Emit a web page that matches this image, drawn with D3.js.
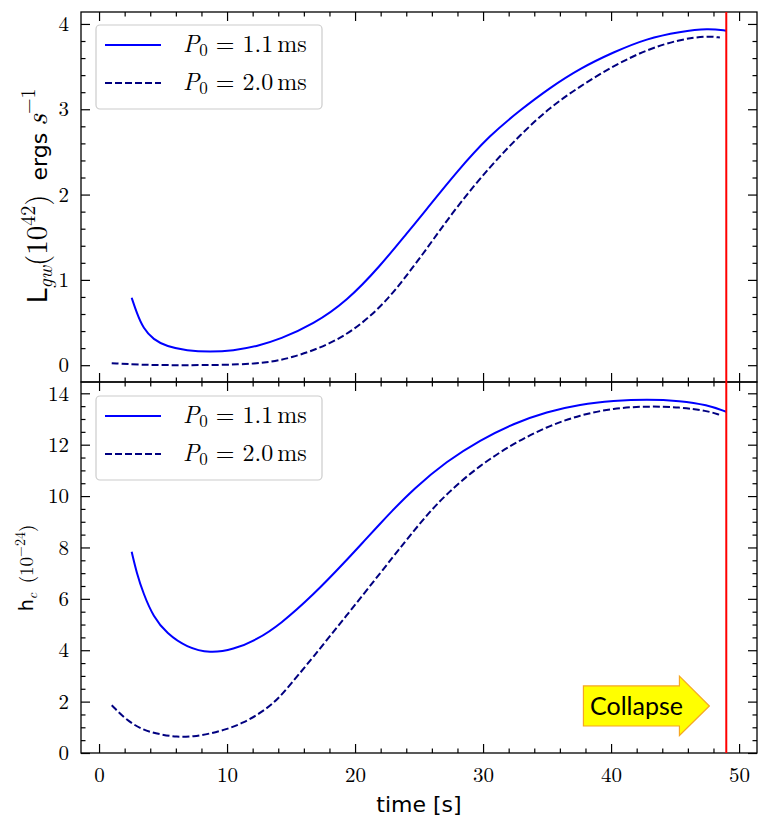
<!DOCTYPE html>
<html><head><meta charset="utf-8">
<script src="https://cdn.jsdelivr.net/npm/d3@7"></script>
<style>body{margin:0;background:#fff}svg{display:block}</style>
</head><body>
<svg id="c" width="762" height="823"></svg>
<script>
// ---- data ----
const lgwFastT = [2.55,2.95,3.46,4.24,5.29,6.85,8.67,10.49,12.3,14.14,16.74,19.35,21.95,24.17,25.34,27.95,30.55,32.9,35.2,37.58,40.2,42.79,45.4,47.6,49.0];
const lgwFastV = [0.79,0.61,0.43,0.30,0.22,0.17,0.156,0.17,0.22,0.305,0.48,0.75,1.16,1.57,1.78,2.27,2.70,2.99,3.25,3.48,3.67,3.83,3.91,3.95,3.92];
const lgwSlowT = [0.99,3.2,5.5,7.9,11.0,13.1,14.92,18.05,20.65,22.73,24.17,25.34,27.95,30.55,32.9,35.2,37.58,40.2,42.79,45.4,47.5,48.5];
const lgwSlowV = [0.023,0.005,0.0,0.0,0.007,0.03,0.08,0.24,0.49,0.80,1.08,1.31,1.86,2.33,2.70,3.02,3.27,3.51,3.70,3.82,3.86,3.84];
const hcFastT = [2.55,2.95,3.46,4.24,5.29,6.85,8.67,10.49,12.3,14.14,16.74,19.35,20.78,21.95,22.73,24.55,27.16,29.77,32.4,34.97,37.58,40.2,42.79,45.4,47.5,49.0];
const hcFastV = [7.83,6.99,6.21,5.30,4.65,4.11,3.88,4.03,4.40,5.0,6.15,7.51,8.29,8.92,9.34,10.27,11.36,12.18,12.83,13.28,13.57,13.71,13.77,13.71,13.55,13.28];
const hcSlowT = [0.99,2.16,3.46,4.8,6.07,7.4,8.67,10.0,11.27,12.5,13.6,14.4,16.74,19.35,21.95,23.9,25.5,27.16,29.77,32.4,34.97,37.58,40.2,42.79,45.4,47.5,48.5];
const hcSlowV = [1.86,1.27,0.88,0.72,0.62,0.64,0.75,0.93,1.17,1.52,1.93,2.33,3.74,5.36,6.99,8.22,9.2,10.1,11.21,12.05,12.7,13.16,13.42,13.5,13.46,13.32,13.16];
const collapseT = 49.0;
const xTicks = [0,10,20,30,40,50];
const y1Ticks = [0,1,2,3,4];
const y2Ticks = [0,2,4,6,8,10,12,14];
const seriesLabels = ["1.1", "2.0"];
const arrowBody = {t0:37.84, t1:45.34, hLo:1.05, hHi:2.61, headLo:0.68, headHi:2.99, tip:47.68, mid:1.83};

// ---- layout ----
const L=81, R=757, T1=12, B1=382, T2=382, B2=753;
const svg = d3.select("#c");
const x = d3.scaleLinear().domain([-1.41,51.4]).range([L,R]);
const y1 = d3.scaleLinear().domain([-0.197,4.14]).range([B1,T1]);
const y2 = d3.scaleLinear().domain([0,14.44]).range([B2,T2]);
const serif = "'Latin Modern Roman', 'Liberation Serif', serif";
const sans = "'DejaVu Sans', sans-serif";

const defs = svg.append("defs");
defs.append("clipPath").attr("id","cp1").append("rect").attr("x",L).attr("y",T1).attr("width",R-L).attr("height",B1-T1);
defs.append("clipPath").attr("id","cp2").append("rect").attr("x",L).attr("y",T2).attr("width",R-L).attr("height",B2-T2);

function styleAxis(g, labels){
  g.attr("font-family",null).attr("font-size",null);
  g.select(".domain").remove();
  g.selectAll(".tick line").attr("stroke","#000").attr("stroke-width",1.2);
  g.selectAll("text").style("font-family",serif).style("font-size","21px").attr("fill","#000");
  if(!labels) g.selectAll("text").remove();
}
function axes(y, yt, yMinorStep, top, bottom, xLabels){
  const xMinor = d3.range(0, 52, 2).filter(v=>v%10!==0);
  const yMinor = d3.range(0, y.domain()[1], yMinorStep).map(v=>+v.toFixed(3)).filter(v=>!yt.some(t=>Math.abs(t-v)<1e-6));
  let g = svg.append("g").attr("transform",`translate(0,${bottom})`).call(d3.axisBottom(x).tickValues(xTicks).tickSize(-9).tickPadding(14).tickFormat(d3.format("d")));
  styleAxis(g, xLabels);
  g = svg.append("g").attr("transform",`translate(0,${bottom})`).call(d3.axisBottom(x).tickValues(xMinor).tickSize(-4.5).tickFormat(""));
  styleAxis(g,false);
  g = svg.append("g").attr("transform",`translate(0,${top})`).call(d3.axisTop(x).tickValues(xTicks).tickSize(-9));
  styleAxis(g,false);
  g = svg.append("g").attr("transform",`translate(0,${top})`).call(d3.axisTop(x).tickValues(xMinor).tickSize(-4.5));
  styleAxis(g,false);
  g = svg.append("g").attr("transform",`translate(${L},0)`).call(d3.axisLeft(y).tickValues(yt).tickSize(-9).tickPadding(12).tickFormat(d3.format("d")));
  styleAxis(g,true);
  g = svg.append("g").attr("transform",`translate(${L},0)`).call(d3.axisLeft(y).tickValues(yMinor).tickSize(-4.5));
  styleAxis(g,false);
  g = svg.append("g").attr("transform",`translate(${R},0)`).call(d3.axisRight(y).tickValues(yt).tickSize(-9));
  styleAxis(g,false);
  g = svg.append("g").attr("transform",`translate(${R},0)`).call(d3.axisRight(y).tickValues(yMinor).tickSize(-4.5));
  styleAxis(g,false);
}
axes(y1, y1Ticks, 0.2, T1, B1, false);
axes(y2, y2Ticks, 0.5, T2, B2, true);

svg.append("rect").attr("x",L).attr("y",T1).attr("width",R-L).attr("height",B1-T1).attr("fill","none").attr("stroke","#000").attr("stroke-width",1.3);
svg.append("rect").attr("x",L).attr("y",T2).attr("width",R-L).attr("height",B2-T2).attr("fill","none").attr("stroke","#000").attr("stroke-width",1.3);

function drawLine(ts, vs, y, clip, color, dash){
  const pts = ts.map((t,i)=>[t,vs[i]]);
  svg.append("path").datum(pts).attr("clip-path",`url(#${clip})`)
    .attr("d", d3.line().x(d=>x(d[0])).y(d=>y(d[1])).curve(d3.curveBasis))
    .attr("fill","none").attr("stroke",color).attr("stroke-width",2)
    .attr("stroke-dasharray",dash||null);
}
drawLine(lgwFastT, lgwFastV, y1, "cp1", "#0000ff");
drawLine(lgwSlowT, lgwSlowV, y1, "cp1", "#000080", "7,3");
drawLine(hcFastT, hcFastV, y2, "cp2", "#0000ff");
drawLine(hcSlowT, hcSlowV, y2, "cp2", "#000080", "7,3");

svg.append("line").attr("x1",x(collapseT)).attr("x2",x(collapseT)).attr("y1",T1).attr("y2",B2)
  .attr("stroke","#ff0000").attr("stroke-width",2);

function legend(top){
  svg.append("rect").attr("x",96).attr("y",top).attr("width",226).attr("height",84).attr("rx",4)
    .attr("fill","#fff").attr("fill-opacity",0.8).attr("stroke","#cccccc").attr("stroke-width",1.2);
  seriesLabels.forEach((lab,i)=>{
    const ly = top + 20 + i*38;
    svg.append("line").attr("x1",105).attr("x2",161).attr("y1",ly).attr("y2",ly)
      .attr("stroke", i===0?"#0000ff":"#000080").attr("stroke-width",2).attr("stroke-dasharray", i===0?null:"7,3");
    const t = svg.append("text").attr("x",183).attr("y",ly+7).style("font-family",serif).style("font-size","24px").attr("fill","#000");
    t.append("tspan").attr("font-style","italic").text("P");
    t.append("tspan").style("font-size","17px").attr("dy",4).text("0");
    t.append("tspan").attr("dy",-4).attr("dx",8).text("=");
    t.append("tspan").attr("dx",8).text(lab);
    t.append("tspan").attr("dx",4).text("ms");
  });
}
legend(25);
legend(396);

const yl1 = svg.append("text").attr("transform","translate(47,196) rotate(-90)").attr("text-anchor","middle")
  .style("font-size","29px").attr("fill","#000");
yl1.append("tspan").style("font-family",sans).style("font-size","27px").text("L");
yl1.append("tspan").style("font-family",serif).attr("font-style","italic").style("font-size","20px").attr("dy",5).text("gw");
yl1.append("tspan").style("font-family",serif).attr("dy",-5).text("(10");
yl1.append("tspan").style("font-family",serif).style("font-size","20px").attr("dy",-12).text("42");
yl1.append("tspan").style("font-family",serif).attr("dy",12).text(")");
yl1.append("tspan").style("font-family",sans).style("font-size","22px").text("\u00a0\u00a0ergs\u00a0");
yl1.append("tspan").style("font-family",serif).attr("font-style","italic").text("s");
yl1.append("tspan").style("font-family",serif).style("font-size","20px").attr("dy",-12).text("\u22121");

const yl2 = svg.append("text").attr("transform","translate(33,568) rotate(-90)").attr("text-anchor","middle")
  .style("font-size","19px").attr("fill","#000");
yl2.append("tspan").style("font-family",sans).text("h");
yl2.append("tspan").style("font-family",serif).attr("font-style","italic").style("font-size","14px").attr("dy",4).text("c");
yl2.append("tspan").style("font-family",serif).attr("dy",-4).text("\u00a0(10");
yl2.append("tspan").style("font-family",serif).style("font-size","14px").attr("dy",-8).text("\u221224");
yl2.append("tspan").style("font-family",serif).attr("dy",8).text(")");

svg.append("text").attr("x",419).attr("y",812).attr("text-anchor","middle").style("font-family",sans)
  .style("font-size","22px").attr("fill","#000").text("time [s]");

const a = arrowBody;
const arrowPts = [[a.t0,a.hHi],[a.t1,a.hHi],[a.t1,a.headHi],[a.tip,a.mid],[a.t1,a.headLo],[a.t1,a.hLo],[a.t0,a.hLo]];
svg.append("polygon").attr("points", arrowPts.map(p=>[x(p[0]),y2(p[1])].join(",")).join(" "))
  .attr("fill","#ffff00").attr("stroke","#f5a623").attr("stroke-width",1.2);
svg.append("text").attr("x",x((a.t0+a.t1)/2+0.4)).attr("y",y2(a.mid)).attr("dy","0.35em").attr("text-anchor","middle")
  .style("font-family","Lato, 'Open Sans', sans-serif").style("font-size","25px").attr("fill","#000").text("Collapse");
</script>
</body></html>
